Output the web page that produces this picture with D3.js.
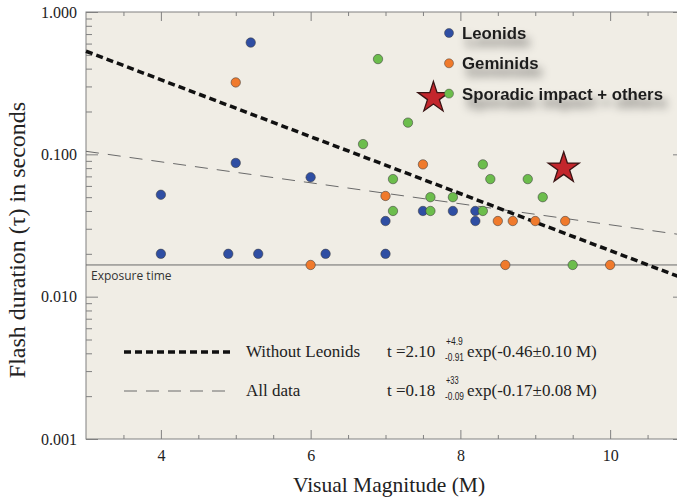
<!DOCTYPE html>
<html>
<head>
<meta charset="utf-8">
<script src="https://cdn.jsdelivr.net/npm/d3@7"></script>
<style>
  body { margin: 0; background: #fff; }
  svg { display: block; }
</style>
</head>
<body>
<div id="chart"></div>
<script>

// ---- data (M = visual magnitude, tau = seconds) ----
var leonidsM   = [4.0, 4.0, 4.9, 5.0, 5.2, 5.3, 6.0, 6.2, 7.0, 7.0, 7.5, 7.9, 8.2, 8.2];
var leonidsTau = [0.020, 0.052, 0.020, 0.087, 0.61, 0.020, 0.069, 0.020, 0.034, 0.020, 0.040, 0.040, 0.040, 0.034];

var geminidsM   = [5.0, 6.0, 7.0, 7.5, 8.5, 8.6, 8.7, 9.0, 9.4, 10.0];
var geminidsTau = [0.32, 0.0167, 0.051, 0.085, 0.034, 0.0167, 0.034, 0.034, 0.034, 0.0167];

var sporadicM   = [6.7, 6.9, 7.1, 7.1, 7.3, 7.6, 7.6, 7.9, 8.3, 8.3, 8.4, 8.9, 9.1, 9.5];
var sporadicTau = [0.118, 0.467, 0.067, 0.040, 0.167, 0.050, 0.040, 0.050, 0.085, 0.040, 0.067, 0.067, 0.050, 0.0167];

var starM   = [7.64, 9.38];
var starTau = [0.25, 0.080];

var exposureTau = 0.0167;

// fit lines, end points
var fitNoLeonidsM   = [3, 11];
var fitNoLeonidsTau = [0.53, 0.0133];
var fitAllM   = [3, 11];
var fitAllTau = [0.105, 0.027];

var xMajorTicks = [4, 6, 8, 10];
var xMinorTicks = [3.5, 4.5, 5, 5.5, 6.5, 7, 7.5, 8.5, 9, 9.5, 10.5];
var yMajorTicks = [0.001, 0.01, 0.1, 1];
var yMinorTicks = [];
[0.001, 0.01, 0.1].forEach(function(d) {
  for (var k = 2; k <= 9; k++) yMinorTicks.push(d * k);
});

var legendNames  = ["Leonids", "Geminids", "Sporadic impact + others"];
var legendColors = ["#2f4ea3", "#f07a2c", "#6cbd4c"];

// ---- layout ----
var W = 677, H = 499;
var pLeft = 86, pTop = 12, pRight = 685, pBottom = 439;

var svg = d3.select("#chart").append("svg")
    .attr("width", W)
    .attr("height", H);

var x = d3.scaleLinear().domain([3, 11]).range([pLeft, pRight]);
var y = d3.scaleLog().domain([0.001, 1]).range([pBottom, pTop]);

var defs = svg.append("defs");
var shadow = defs.append("filter").attr("id", "shadow")
    .attr("x", "-20%").attr("y", "-80%").attr("width", "150%").attr("height", "300%");
shadow.append("feGaussianBlur").attr("in", "SourceAlpha").attr("stdDeviation", 5).attr("result", "b");
shadow.append("feOffset").attr("in", "b").attr("dx", 4).attr("dy", 8).attr("result", "o");
shadow.append("feComponentTransfer").attr("in", "o").attr("result", "s")
  .append("feFuncA").attr("type", "linear").attr("slope", 0.55);
var merge = shadow.append("feMerge");
merge.append("feMergeNode").attr("in", "s");
merge.append("feMergeNode").attr("in", "SourceGraphic");

// plot background
svg.append("rect")
    .attr("x", pLeft).attr("y", pTop)
    .attr("width", pRight - pLeft).attr("height", pBottom - pTop)
    .attr("fill", "#f0ede5")
    .attr("stroke", "#808080")
    .attr("stroke-width", 1);

// ---- axes ----
function styleAxis(g) {
  g.select(".domain").remove();
  g.selectAll(".tick line").attr("stroke", "#808080");
  g.selectAll(".tick text")
    .attr("font-family", "'Liberation Serif', 'Times New Roman', serif")
    .attr("font-size", 16)
    .attr("fill", "#222");
}

svg.append("g").attr("transform", "translate(0," + pBottom + ")")
    .call(d3.axisBottom(x).tickValues(xMajorTicks).tickSizeInner(-9).tickSizeOuter(0)
      .tickPadding(11).tickFormat(d3.format("d")))
    .call(styleAxis);
svg.append("g").attr("transform", "translate(0," + pBottom + ")")
    .call(d3.axisBottom(x).tickValues(xMinorTicks).tickSizeInner(-4).tickSizeOuter(0).tickFormat(""))
    .call(styleAxis);
svg.append("g").attr("transform", "translate(0," + pTop + ")")
    .call(d3.axisTop(x).tickValues(xMajorTicks).tickSizeInner(-9).tickSizeOuter(0).tickFormat(""))
    .call(styleAxis);
svg.append("g").attr("transform", "translate(0," + pTop + ")")
    .call(d3.axisTop(x).tickValues(xMinorTicks).tickSizeInner(-4).tickSizeOuter(0).tickFormat(""))
    .call(styleAxis);

svg.append("g").attr("transform", "translate(" + pLeft + ",0)")
    .call(d3.axisLeft(y).tickValues(yMajorTicks).tickSizeInner(-12).tickSizeOuter(0)
      .tickPadding(9).tickFormat(d3.format(".3f")))
    .call(styleAxis);
svg.append("g").attr("transform", "translate(" + pLeft + ",0)")
    .call(d3.axisLeft(y).tickValues(yMinorTicks).tickSizeInner(-6).tickSizeOuter(0).tickFormat(""))
    .call(styleAxis);
svg.append("g").attr("transform", "translate(" + pRight + ",0)")
    .call(d3.axisRight(y).tickValues(yMajorTicks).tickSizeInner(-12).tickSizeOuter(0).tickFormat(""))
    .call(styleAxis);
svg.append("g").attr("transform", "translate(" + pRight + ",0)")
    .call(d3.axisRight(y).tickValues(yMinorTicks).tickSizeInner(-6).tickSizeOuter(0).tickFormat(""))
    .call(styleAxis);

// axis titles
svg.append("text")
    .attr("x", 389).attr("y", 492)
    .attr("text-anchor", "middle")
    .attr("font-family", "'Liberation Serif', 'Times New Roman', serif")
    .attr("font-size", 21.5)
    .attr("fill", "#222")
    .text("Visual Magnitude (M)");

svg.append("text")
    .attr("transform", "translate(25,240) rotate(-90)")
    .attr("text-anchor", "middle")
    .attr("font-family", "'Liberation Serif', 'Times New Roman', serif")
    .attr("font-size", 24)
    .attr("fill", "#222")
    .text("Flash duration (\u03c4) in seconds");

// ---- exposure time line ----
svg.append("line")
    .attr("x1", pLeft).attr("x2", pRight)
    .attr("y1", y(exposureTau)).attr("y2", y(exposureTau))
    .attr("stroke", "#6a6a6a").attr("stroke-width", 1);
svg.append("text")
    .attr("x", pLeft + 5).attr("y", y(exposureTau) + 15)
    .attr("font-family", "'Open Sans', sans-serif")
    .attr("font-size", 12)
    .attr("fill", "#333")
    .text("Exposure time");

// ---- fit lines ----
var line = d3.line().x(function(d) { return x(d[0]); }).y(function(d) { return y(d[1]); });

svg.append("path")
    .datum(d3.zip(fitAllM, fitAllTau))
    .attr("d", line)
    .attr("fill", "none")
    .attr("stroke", "#6a6a6a").attr("stroke-width", 1)
    .attr("stroke-dasharray", "13,9");

svg.append("path")
    .datum(d3.zip(fitNoLeonidsM, fitNoLeonidsTau))
    .attr("d", line)
    .attr("fill", "none")
    .attr("stroke", "#111").attr("stroke-width", 3.5)
    .attr("stroke-dasharray", "7,4");

// ---- points ----
function drawPoints(ms, taus, color) {
  svg.append("g").selectAll("circle")
    .data(d3.zip(ms, taus))
    .enter().append("circle")
    .attr("cx", function(d) { return x(d[0]); })
    .attr("cy", function(d) { return y(d[1]); })
    .attr("r", 4.7)
    .attr("fill", color)
    .attr("stroke", "#3d3d3d")
    .attr("stroke-opacity", 0.7)
    .attr("stroke-width", 0.8);
}
drawPoints(leonidsM, leonidsTau, legendColors[0]);
drawPoints(geminidsM, geminidsTau, legendColors[1]);
drawPoints(sporadicM, sporadicTau, legendColors[2]);

// stars
svg.append("g").selectAll("path")
  .data(d3.zip(starM, starTau))
  .enter().append("path")
  .attr("transform", function(d) { return "translate(" + x(d[0]) + "," + y(d[1]) + ")"; })
  .attr("d", d3.symbol().type(d3.symbolStar).size(300))
  .attr("fill", "#c3262c")
  .attr("stroke", "#3a1414")
  .attr("stroke-width", 1.3);

// ---- legend (series) ----
var leg = svg.append("g").selectAll("g")
  .data(legendNames)
  .enter().append("g")
  .attr("transform", function(d, i) { return "translate(449," + (33 + i * 30.3) + ")"; });

leg.append("text")
  .attr("x", 13).attr("y", 6)
  .attr("font-family", "'Liberation Sans', Arial, sans-serif")
  .attr("font-weight", "bold")
  .attr("font-size", 16.8)
  .attr("fill", "#1e1e1e")
  .attr("filter", "url(#shadow)")
  .text(function(d) { return d; });

leg.append("circle")
  .attr("r", 4.5)
  .attr("fill", function(d, i) { return legendColors[i]; })
  .attr("stroke", "#3d3d3d")
  .attr("stroke-opacity", 0.6)
  .attr("stroke-width", 0.8);

// ---- legend (fits) ----
var serif = "'Liberation Serif', 'Times New Roman', serif";
var sans = "'Liberation Sans', Arial, sans-serif";

svg.append("line")
  .attr("x1", 124).attr("x2", 232).attr("y1", 352).attr("y2", 352)
  .attr("stroke", "#111").attr("stroke-width", 3.5).attr("stroke-dasharray", "7,4");
svg.append("line")
  .attr("x1", 124).attr("x2", 230).attr("y1", 391).attr("y2", 391)
  .attr("stroke", "#6a6a6a").attr("stroke-width", 1).attr("stroke-dasharray", "13,9");

var fitRows = [
  { label: "Without Leonids", t: "t =2.10", sup: "+4.9", sub: "-0.91", tail: "exp(-0.46\u00b10.10 M)", y: 357 },
  { label: "All data",        t: "t =0.18", sup: "+33",  sub: "-0.09", tail: "exp(-0.17\u00b10.08 M)", y: 396 }
];

fitRows.forEach(function(r) {
  svg.append("text").attr("x", 246).attr("y", r.y)
    .attr("font-family", serif).attr("font-size", 17).attr("fill", "#222").text(r.label);
  svg.append("text").attr("x", 387).attr("y", r.y)
    .attr("font-family", serif).attr("font-size", 17).attr("fill", "#222").text(r.t);
  svg.append("text").attr("x", 446).attr("y", r.y - 12)
    .attr("font-family", sans).attr("font-size", 10)
    .attr("textLength", r.sup.length * 4.2).attr("lengthAdjust", "spacingAndGlyphs")
    .attr("fill", "#222").text(r.sup);
  svg.append("text").attr("x", 445).attr("y", r.y + 4)
    .attr("font-family", sans).attr("font-size", 10)
    .attr("textLength", 19).attr("lengthAdjust", "spacingAndGlyphs")
    .attr("fill", "#222").text(r.sub);
  svg.append("text").attr("x", 467).attr("y", r.y)
    .attr("font-family", serif).attr("font-size", 17).attr("fill", "#222").text(r.tail);
});

</script>
</body>
</html>
